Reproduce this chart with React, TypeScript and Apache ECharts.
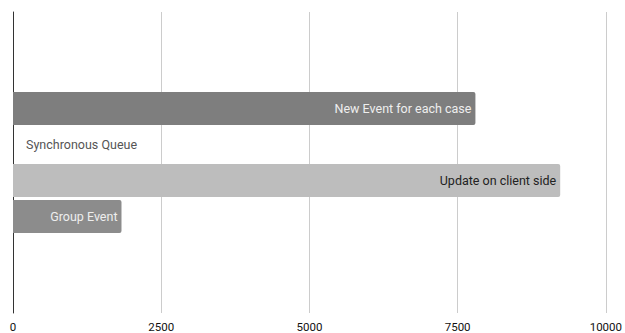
import React, { useEffect, useRef } from "react";
import * as echarts from "echarts";

const seriesNames = ["New Event for each case", "Synchronous Queue", "Update on client side", "Group Event"];
const seriesValues = [7800, 0, 9230, 1830];
const barColors = ["#7e7e7e", "#7e7e7e", "#bdbdbd", "#8c8c8c"];
const labelColors = ["#eeeeee", "#555555", "#222222", "#eeeeee"];
const xTicks = [0, 2500, 5000, 7500, 10000];

export default function App() {
  const ref = useRef<HTMLDivElement>(null);
  useEffect(() => {
    document.body.style.margin = "0";
    const chart = echarts.init(ref.current!, null, { renderer: "svg" });
    const series = seriesNames.map((name, i) => ({
      type: "bar",
      name,
      data: [seriesValues[i]],
      barWidth: 33,
      barGap: "9%",
      itemStyle: { color: barColors[i], borderRadius: [0, 2, 2, 0] },
      label: {
        show: true,
        formatter: name,
        position: seriesValues[i] === 0 ? "right" : "insideRight",
        distance: seriesValues[i] === 0 ? 13 : 4,
        color: labelColors[i],
        fontFamily: "Roboto",
        fontSize: 12.5,
      },
    }));
    chart.setOption({
      animation: false,
      grid: { left: 13, right: 17, top: 12, bottom: 20, containLabel: false },
      xAxis: {
        type: "value",
        min: xTicks[0],
        max: xTicks[xTicks.length - 1],
        interval: 2500,
        axisLine: { show: false },
        axisTick: { show: false },
        splitLine: { show: true, lineStyle: { color: "#cccccc", width: 1 } },
        axisLabel: {
          color: "#111111",
          fontFamily: "Roboto",
          fontSize: 11.5,
          margin: 8,
          formatter: (v: number) => String(v),
        },
      },
      yAxis: {
        type: "category",
        data: ["all"],
        inverse: true,
        axisLine: { show: true, lineStyle: { color: "#333333", width: 1 } },
        axisTick: { show: false },
        axisLabel: { show: false },
      },
      series,
    });
    return () => chart.dispose();
  }, []);
  return <div ref={ref} style={{ width: 625, height: 333, background: "#ffffff" }} />;
}
